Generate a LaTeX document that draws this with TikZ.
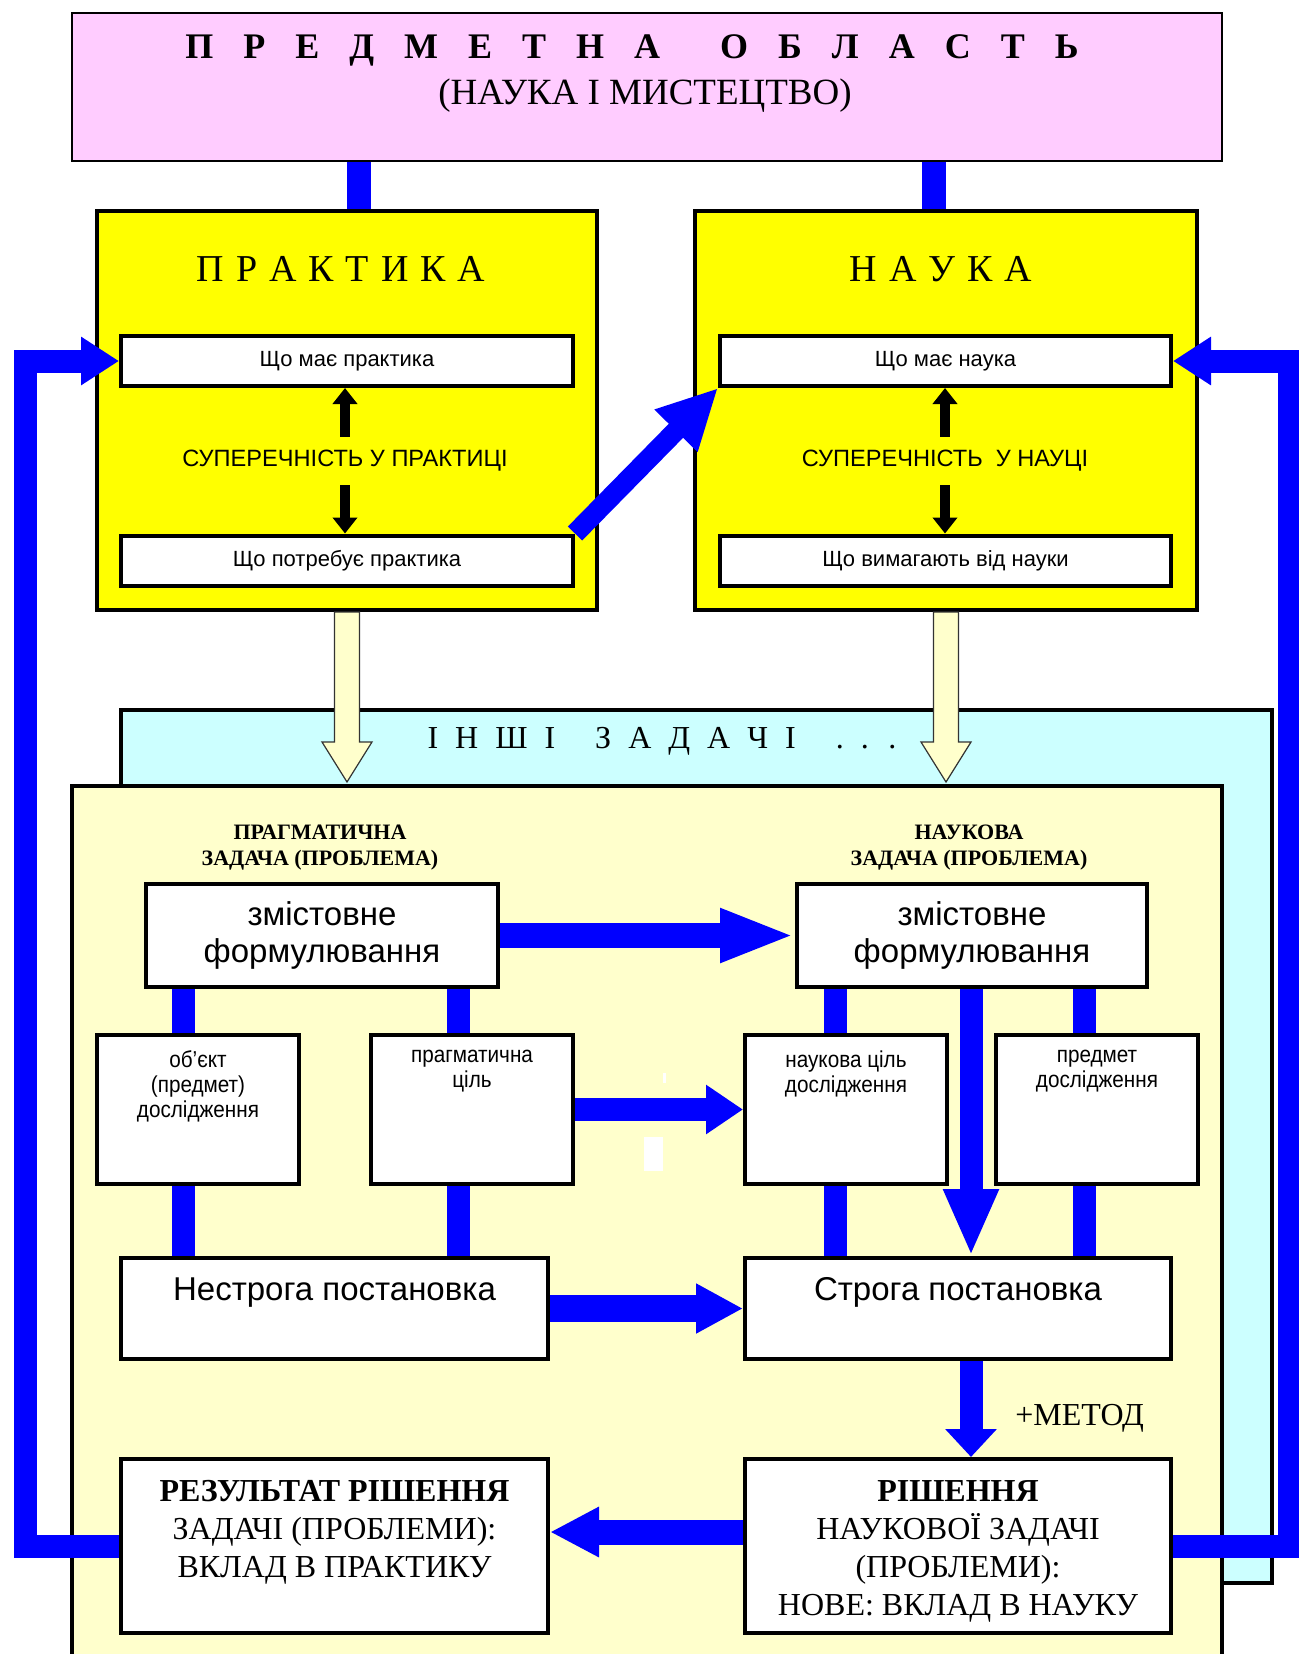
\documentclass[tikz,border=0pt]{standalone}
\usepackage{fontspec}
\setmainfont{Liberation Serif}
\setsansfont{Liberation Sans}
\usetikzlibrary{arrows.meta}
\usetikzlibrary{calc}
\usetikzlibrary{positioning}

\definecolor{domainpink}{RGB}{255,204,255}
\definecolor{fieldyellow}{RGB}{255,255,0}
\definecolor{othercyan}{RGB}{204,255,255}
\definecolor{taskcream}{RGB}{255,255,204}
\definecolor{linkblue}{RGB}{0,0,255}

\tikzset{
	box/.style={draw, line width=2pt, fill=white, inner sep=0pt},
	panel/.style={draw, line width=2pt, inner sep=0pt},
	link/.style={draw=linkblue, line width=11.5pt},
	hollow/.style={draw=black!80, line width=0.6pt, fill=taskcream},
	contra/.style={line width=5pt, -{Triangle[length=8pt,width=12pt]}},
	boxtext/.style={font={\sffamily\fontsize{11}{12.5}\selectfont}, align=center, inner sep=0pt},
	smalltext/.style={font={\sffamily\fontsize{11.5}{12.5}\selectfont\addfontfeature{FakeStretch=0.9}}, align=center, inner sep=0pt},
	bigtext/.style={font={\sffamily\fontsize{16.5}{18.5}\selectfont}, align=center, inner sep=0pt},
	fieldtitle/.style={font={\fontsize{19}{22}\selectfont\spaceskip=6pt\relax}, inner sep=0pt},
	tasktitle/.style={font={\bfseries\fontsize{11}{13}\selectfont}, align=center, inner sep=0pt},
	outcome/.style={font={\fontsize{16}{19}\selectfont}, align=center, inner sep=0pt},
}

\begin{document}
\begin{tikzpicture}[x=0.5pt, y=-0.5pt]
	\useasboundingbox (0,0) rectangle (1299,1654);
	% subject domain
	\node[panel, line width=1pt, fill=domainpink, minimum width=575pt, minimum height=74pt] (domain) at (647,87) {};
	\node[font={\bfseries\fontsize{18}{21}\selectfont\spaceskip=15pt\relax}, inner sep=0pt] (domaintitle) at (632,50) {П Р Е Д М Е Т Н А\hspace{30pt}О Б Л А С Т Ь};
	\node[font={\fontsize{18.5}{21}\selectfont}, inner sep=0pt] (domainsub) at (645,96) {(НАУКА І МИСТЕЦТВО)};
	% practice and science
	\node[panel, fill=fieldyellow, minimum width=250pt, minimum height=199.5pt] (practice) at (347,410.5) {};
	\node[panel, fill=fieldyellow, minimum width=251pt, minimum height=199.5pt] (science) at (946,410.5) {};
	\node[fieldtitle] (practicetitle) at (341,269) {П Р А К Т И К А};
	\node[fieldtitle] (sciencetitle) at (941,269) {Н А У К А};
	\node[box, boxtext, minimum width=226pt, minimum height=25pt] (phave) at (347,361) {Що має практика};
	\node[box, boxtext, minimum width=226pt, minimum height=25pt] (pneed) at (347,560.5) {Що потребує практика};
	\node[box, boxtext, minimum width=225.5pt, minimum height=25pt] (shave) at (945.5,361) {Що має наука};
	\node[box, boxtext, minimum width=225.5pt, minimum height=25pt] (sneed) at (945.5,560.5) {Що вимагають від науки};
	\node[font={\sffamily\fontsize{11.8}{14}\selectfont}, minimum height=24pt, inner sep=0pt] (pcontra) at (345,461) {СУПЕРЕЧНІСТЬ У ПРАКТИЦІ};
	\node[font={\sffamily\fontsize{11.8}{14}\selectfont}, minimum height=24pt, inner sep=0pt] (scontra) at (945,461) {СУПЕРЕЧНІСТЬ\ \ У НАУЦІ};
	\draw[contra] (pcontra.north) -- (pcontra.north |- phave.south);
	\draw[contra] (pcontra.south) -- (pcontra.south |- pneed.north);
	\draw[contra] (scontra.north) -- (scontra.north |- shave.south);
	\draw[contra] (scontra.south) -- (scontra.south |- sneed.north);
	\draw[link, line width=10pt, -{Triangle[length=30pt,width=28pt]}] (pneed.north east) -- (shave.south west);
	\draw[link, line width=12pt] ([xshift=6pt]practice.north) -- ([xshift=6pt]practice.north |- domain.south);
	\draw[link, line width=12pt] ([xshift=-6pt]science.north) -- ([xshift=-6pt]science.north |- domain.south);
	% other tasks and the task itself
	\node[panel, fill=othercyan, minimum width=575.5pt, minimum height=436.5pt] (others) at (696.5,1146.5) {};
	\node[font={\fontsize{16}{19}\selectfont\spaceskip=8.5pt\relax}, inner sep=0pt] (otherstitle) at (662,741) {І Н Ш І\hspace{20pt}З А Д А Ч І\hspace{20pt}. . .};
	\node[panel, fill=taskcream, minimum width=575pt, minimum height=450pt, anchor=north] (task) at (647,784) {};
	\draw[hollow] ($(practice.south)+(-12.5,0)$) -- ++(0,130) -- ++(-12.5,0) -- ++(25,40) -- ++(25,-40) -- ++(-12.5,0) -- ++(0,-130) -- cycle;
	\draw[hollow] ($(science.south)+(-12.5,0)$) -- ++(0,130) -- ++(-12.5,0) -- ++(25,40) -- ++(25,-40) -- ++(-12.5,0) -- ++(0,-130) -- cycle;
	\node[tasktitle] (ptitle) at (320,848) {ПРАГМАТИЧНА\\ЗАДАЧА (ПРОБЛЕМА)};
	\node[tasktitle] (stitle) at (969,848) {НАУКОВА\\ЗАДАЧА (ПРОБЛЕМА)};
	\node[box, bigtext, minimum width=176pt, minimum height=51.5pt] (pform) at (322,935.5) {змістовне\\формулювання};
	\node[box, bigtext, minimum width=175pt, minimum height=51.5pt] (sform) at (972,935.5) {змістовне\\формулювання};
	\draw[link, line width=12.5pt, -{Triangle[length=37.5pt,width=24.5pt]}] (pform) -- (sform);
	\node[box, minimum width=101pt, minimum height=74.5pt] (object) at (198,1109.5) {};
	\node[box, minimum width=101pt, minimum height=74.5pt] (pgoal) at (472,1109.5) {};
	\node[box, minimum width=101pt, minimum height=74.5pt] (sgoal) at (846,1109.5) {};
	\node[box, minimum width=101pt, minimum height=74.5pt] (subject) at (1097,1109.5) {};
	\node[smalltext, below=8.5pt of object.north] (objecttext) {об’єкт\\(предмет)\\дослідження};
	\node[smalltext, below=8.5pt of pgoal.north] (pgoaltext) {прагматична\\ціль};
	\node[smalltext, below=8.5pt of sgoal.north] (sgoaltext) {наукова ціль\\дослідження};
	\node[smalltext, below=8.5pt of subject.north] (subjecttext) {предмет\\дослідження};
	\draw[link, line width=11.5pt, -{Triangle[length=18.5pt,width=23.5pt]}] (pgoal) -- (sgoal);
	\fill[white] (644,1137) rectangle (663,1171);
	\fill[white] (663,1073) rectangle (666,1083);
	\node[box, minimum width=213.5pt, minimum height=50.5pt] (loose) at (334.5,1308.5) {};
	\node[box, minimum width=213pt, minimum height=50.5pt] (strict) at (958,1308.5) {};
	\node[bigtext, below=10.5pt of loose.north] (loosetext) {Нестрога постановка};
	\node[bigtext, below=10.5pt of strict.north] (stricttext) {Строга постановка};
	\draw[link, line width=13.5pt, -{Triangle[length=23.5pt,width=23.5pt]}] (loose) -- (strict);
	\coordinate (objectline) at (183,0);
	\coordinate (pgoalline) at (458,0);
	\coordinate (sgoalline) at (835,0);
	\coordinate (subjectline) at (1084,0);
	\coordinate (mainline) at (971,0);
	\draw[link] (pform.south -| objectline) -- (object.north -| objectline);
	\draw[link] (object.south -| objectline) -- (loose.north -| objectline);
	\draw[link] (pform.south -| pgoalline) -- (pgoal.north -| pgoalline);
	\draw[link] (pgoal.south -| pgoalline) -- (loose.north -| pgoalline);
	\draw[link] (sform.south -| sgoalline) -- (sgoal.north -| sgoalline);
	\draw[link] (sgoal.south -| sgoalline) -- (strict.north -| sgoalline);
	\draw[link] (sform.south -| subjectline) -- (subject.north -| subjectline);
	\draw[link] (subject.south -| subjectline) -- (strict.north -| subjectline);
	\draw[link, -{Triangle[length=33.5pt,width=25.5pt]}] (sform.south -| mainline) -- (strict.north -| mainline);
	% solution and result
	\node[box, minimum width=213.5pt, minimum height=87pt] (result) at (334.5,1546) {};
	\node[box, minimum width=213pt, minimum height=87pt] (solution) at (958,1546) {};
	\node[outcome, below=11.5pt of result.north] (resulttext) {\textbf{РЕЗУЛЬТАТ РІШЕННЯ}\\ЗАДАЧІ (ПРОБЛЕМИ):\\ВКЛАД В ПРАКТИКУ};
	\node[outcome, below=11.5pt of solution.north] (solutiontext) {\textbf{РІШЕННЯ}\\НАУКОВОЇ ЗАДАЧІ\\(ПРОБЛЕМИ):\\НОВЕ: ВКЛАД В НАУКУ};
	\draw[link, -{Triangle[length=14pt,width=25pt]}] (strict.south -| mainline) -- (solution.north -| mainline);
	\node[outcome, anchor=west] (method) at (1015,1418) {+МЕТОД};
	\draw[link, line width=12.5pt, -{Triangle[length=24.5pt,width=23.5pt]}] ([yshift=7pt]solution.west) -- ([yshift=7pt]result.east);
	% feedback loops
	\coordinate (leftrail) at (25,0);
	\coordinate (rightrail) at (1289,0);
	\draw[link, -{Triangle[length=19pt,width=23pt]}] (result.west) -| (leftrail |- phave.west) -- (phave.west);
	\draw[link, -{Triangle[length=19pt,width=23pt]}] (solution.east) -| (rightrail |- shave.east) -- (shave.east);
\end{tikzpicture}
\end{document}
